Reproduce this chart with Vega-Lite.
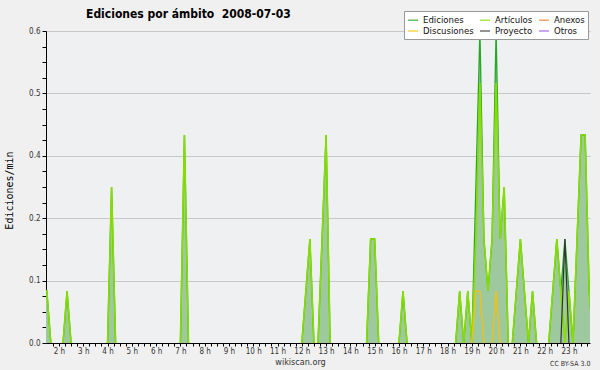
{
"$schema": "https://vega.github.io/schema/vega-lite/v6.json",
"width": 544, "height": 312,
"autosize": {"type": "none"},
"padding": {"left": 46, "top": 31, "right": 10, "bottom": 27},
"background": "#f0f0f0",
"title": {"text": "Ediciones por ámbito\u00a0 2008-07-03", "anchor": "start", "frame": "group", "dx": 40, "offset": -10, "font": "DejaVu Sans Condensed", "fontSize": 12, "fontWeight": "bold", "color": "#000000"},
"config": {
  "view": {"fill": "#eef0f2", "stroke": null},
  "legend": {"orient": "none", "legendX": 358, "legendY": -20, "direction": "horizontal", "columns": 3, "symbolType": "stroke", "symbolSize": 100, "symbolStrokeWidth": 1.5, "symbolOpacity": 0.7, "labelFont": "DejaVu Sans Condensed", "labelFontSize": 9.5, "labelColor": "#111111", "labelOffset": 4, "columnPadding": 3, "rowPadding": -1, "padding": 3, "fillColor": "#ffffff", "strokeColor": "#999999"}
},
"data": {"values": [
{"t":80,"s":"Ediciones","v":0.1,"g":1},{"t":90,"s":"Ediciones","v":0.1,"g":1},{"t":100,"s":"Ediciones","v":0,"g":1},
{"t":130,"s":"Ediciones","v":0,"g":2},{"t":140,"s":"Ediciones","v":0.1,"g":2},{"t":150,"s":"Ediciones","v":0,"g":2},
{"t":240,"s":"Ediciones","v":0,"g":3},{"t":250,"s":"Ediciones","v":0.3,"g":3},{"t":260,"s":"Ediciones","v":0,"g":3},
{"t":420,"s":"Ediciones","v":0,"g":4},{"t":430,"s":"Ediciones","v":0.4,"g":4},{"t":440,"s":"Ediciones","v":0,"g":4},
{"t":720,"s":"Ediciones","v":0,"g":5},{"t":730,"s":"Ediciones","v":0.1,"g":5},{"t":740,"s":"Ediciones","v":0.2,"g":5},{"t":750,"s":"Ediciones","v":0,"g":5},
{"t":760,"s":"Ediciones","v":0,"g":6},{"t":770,"s":"Ediciones","v":0.2,"g":6},{"t":780,"s":"Ediciones","v":0.4,"g":6},{"t":790,"s":"Ediciones","v":0,"g":6},
{"t":880,"s":"Ediciones","v":0,"g":7},{"t":890,"s":"Ediciones","v":0.2,"g":7},{"t":900,"s":"Ediciones","v":0.2,"g":7},{"t":910,"s":"Ediciones","v":0,"g":7},
{"t":960,"s":"Ediciones","v":0,"g":8},{"t":970,"s":"Ediciones","v":0.1,"g":8},{"t":980,"s":"Ediciones","v":0,"g":8},
{"t":1100,"s":"Ediciones","v":0,"g":9},{"t":1110,"s":"Ediciones","v":0.1,"g":9},{"t":1120,"s":"Ediciones","v":0,"g":9},{"t":1130,"s":"Ediciones","v":0.1,"g":9},{"t":1140,"s":"Ediciones","v":0,"g":9},{"t":1150,"s":"Ediciones","v":0.3,"g":9},{"t":1160,"s":"Ediciones","v":0.6,"g":9},{"t":1170,"s":"Ediciones","v":0.2,"g":9},{"t":1180,"s":"Ediciones","v":0.1,"g":9},{"t":1190,"s":"Ediciones","v":0.2,"g":9},{"t":1200,"s":"Ediciones","v":0.6,"g":9},{"t":1210,"s":"Ediciones","v":0.2,"g":9},{"t":1220,"s":"Ediciones","v":0.3,"g":9},{"t":1230,"s":"Ediciones","v":0,"g":9},
{"t":1240,"s":"Ediciones","v":0,"g":10},{"t":1250,"s":"Ediciones","v":0.1,"g":10},{"t":1260,"s":"Ediciones","v":0.2,"g":10},{"t":1270,"s":"Ediciones","v":0.1,"g":10},{"t":1280,"s":"Ediciones","v":0,"g":10},{"t":1290,"s":"Ediciones","v":0.1,"g":10},{"t":1300,"s":"Ediciones","v":0,"g":10},
{"t":1330,"s":"Ediciones","v":0,"g":11},{"t":1340,"s":"Ediciones","v":0.1,"g":11},{"t":1350,"s":"Ediciones","v":0.2,"g":11},{"t":1360,"s":"Ediciones","v":0.1,"g":11},{"t":1370,"s":"Ediciones","v":0.2,"g":11},{"t":1380,"s":"Ediciones","v":0.1,"g":11},{"t":1390,"s":"Ediciones","v":0,"g":11},{"t":1400,"s":"Ediciones","v":0.2,"g":11},{"t":1410,"s":"Ediciones","v":0.4,"g":11},{"t":1420,"s":"Ediciones","v":0.4,"g":11},{"t":1430,"s":"Ediciones","v":0.1,"g":11},{"t":1440,"s":"Ediciones","v":0,"g":11},
{"t":80,"s":"Artículos","v":0.1,"g":1},{"t":90,"s":"Artículos","v":0.1,"g":1},{"t":100,"s":"Artículos","v":0,"g":1},
{"t":130,"s":"Artículos","v":0,"g":2},{"t":140,"s":"Artículos","v":0.1,"g":2},{"t":150,"s":"Artículos","v":0,"g":2},
{"t":240,"s":"Artículos","v":0,"g":3},{"t":250,"s":"Artículos","v":0.3,"g":3},{"t":260,"s":"Artículos","v":0,"g":3},
{"t":420,"s":"Artículos","v":0,"g":4},{"t":430,"s":"Artículos","v":0.4,"g":4},{"t":440,"s":"Artículos","v":0,"g":4},
{"t":720,"s":"Artículos","v":0,"g":5},{"t":730,"s":"Artículos","v":0.1,"g":5},{"t":740,"s":"Artículos","v":0.2,"g":5},{"t":750,"s":"Artículos","v":0,"g":5},
{"t":760,"s":"Artículos","v":0,"g":6},{"t":770,"s":"Artículos","v":0.2,"g":6},{"t":780,"s":"Artículos","v":0.4,"g":6},{"t":790,"s":"Artículos","v":0,"g":6},
{"t":880,"s":"Artículos","v":0,"g":7},{"t":890,"s":"Artículos","v":0.2,"g":7},{"t":900,"s":"Artículos","v":0.2,"g":7},{"t":910,"s":"Artículos","v":0,"g":7},
{"t":960,"s":"Artículos","v":0,"g":8},{"t":970,"s":"Artículos","v":0.1,"g":8},{"t":980,"s":"Artículos","v":0,"g":8},
{"t":1100,"s":"Artículos","v":0,"g":9},{"t":1110,"s":"Artículos","v":0.1,"g":9},{"t":1120,"s":"Artículos","v":0,"g":9},{"t":1130,"s":"Artículos","v":0.1,"g":9},{"t":1140,"s":"Artículos","v":0,"g":9},{"t":1150,"s":"Artículos","v":0.2,"g":9},{"t":1160,"s":"Artículos","v":0.5,"g":9},{"t":1170,"s":"Artículos","v":0.2,"g":9},{"t":1180,"s":"Artículos","v":0.1,"g":9},{"t":1190,"s":"Artículos","v":0.2,"g":9},{"t":1200,"s":"Artículos","v":0.5,"g":9},{"t":1210,"s":"Artículos","v":0.2,"g":9},{"t":1220,"s":"Artículos","v":0.3,"g":9},{"t":1230,"s":"Artículos","v":0,"g":9},
{"t":1240,"s":"Artículos","v":0,"g":10},{"t":1250,"s":"Artículos","v":0.1,"g":10},{"t":1260,"s":"Artículos","v":0.2,"g":10},{"t":1270,"s":"Artículos","v":0.1,"g":10},{"t":1280,"s":"Artículos","v":0,"g":10},{"t":1290,"s":"Artículos","v":0.1,"g":10},{"t":1300,"s":"Artículos","v":0,"g":10},
{"t":1330,"s":"Artículos","v":0,"g":11},{"t":1340,"s":"Artículos","v":0.1,"g":11},{"t":1350,"s":"Artículos","v":0.2,"g":11},{"t":1360,"s":"Artículos","v":0.1,"g":11},{"t":1370,"s":"Artículos","v":0,"g":11},{"t":1380,"s":"Artículos","v":0.1,"g":11},{"t":1390,"s":"Artículos","v":0,"g":11},{"t":1400,"s":"Artículos","v":0.2,"g":11},{"t":1410,"s":"Artículos","v":0.4,"g":11},{"t":1420,"s":"Artículos","v":0.4,"g":11},{"t":1430,"s":"Artículos","v":0.1,"g":11},{"t":1440,"s":"Artículos","v":0,"g":11},
{"t":1140,"s":"Discusiones","v":0,"g":12},{"t":1150,"s":"Discusiones","v":0.1,"g":12},{"t":1160,"s":"Discusiones","v":0.1,"g":12},{"t":1170,"s":"Discusiones","v":0,"g":12},
{"t":1190,"s":"Discusiones","v":0,"g":13},{"t":1200,"s":"Discusiones","v":0.1,"g":13},{"t":1210,"s":"Discusiones","v":0,"g":13},
{"t":1360,"s":"Proyecto","v":0,"g":14},{"t":1370,"s":"Proyecto","v":0.2,"g":14},{"t":1380,"s":"Proyecto","v":0,"g":14}
]},
"encoding": {
  "x": {"field": "t", "type": "quantitative", "scale": {"domain": [88, 1432], "nice": false, "zero": false},
    "axis": {"values": [105,120,135,150,165,180,195,210,225,240,255,270,285,300,315,330,345,360,375,390,405,420,435,450,465,480,495,510,525,540,555,570,585,600,615,630,645,660,675,690,705,720,735,750,765,780,795,810,825,840,855,870,885,900,915,930,945,960,975,990,1005,1020,1035,1050,1065,1080,1095,1110,1125,1140,1155,1170,1185,1200,1215,1230,1245,1260,1275,1290,1305,1320,1335,1350,1365,1380,1395,1410,1425],
      "labelExpr": "datum.value % 60 == 0 ? (datum.value / 60) + ' h' : ''",
      "labelOverlap": false, "labelFlush": false, "labelBound": false,
      "labelFont": "DejaVu Sans Condensed", "labelFontSize": 8, "labelColor": "#333333", "labelPadding": 1,
      "tickColor": "#000000", "tickSize": 3, "domainColor": "#000000", "grid": false, "zindex": 1,
      "title": "wikiscan.org", "titleFont": "DejaVu Sans Condensed", "titleFontSize": 9, "titleFontWeight": "normal", "titleColor": "#333333",
      "titleX": 254, "titleY": 21, "titleAlign": "center", "titleBaseline": "alphabetic"}},
  "y": {"field": "v", "type": "quantitative", "scale": {"domain": [0, 0.6], "nice": false},
    "axis": {"values": [0,0.03,0.06,0.09,0.12,0.15,0.18,0.21,0.24,0.27,0.3,0.33,0.36,0.39,0.42,0.45,0.48,0.51,0.54,0.57,0.6],
      "labelExpr": "indexof([0,0.12,0.24,0.36,0.48,0.6], datum.value) >= 0 ? format(datum.value, '.1f') : ''",
      "labelOverlap": false, "labelFlush": false, "labelBound": false,
      "labelFont": "DejaVu Sans Condensed", "labelFontSize": 8, "labelColor": "#333333", "labelPadding": 2,
      "tickColor": "#000000", "tickSize": 4, "domainColor": "#000000",
      "grid": true, "gridColor": "#c8c8c8", "gridOpacity": {"condition": {"test": "indexof([0.12,0.24,0.36,0.48,0.6], datum.value) >= 0", "value": 1}, "value": 0},
      "zindex": 0,
      "title": "Ediciones/min", "titleFont": "DejaVu Sans Mono", "titleFontSize": 10, "titleFontWeight": "normal", "titleColor": "#000000",
      "titleX": -37, "titleY": 159, "titleAngle": 270, "titleAlign": "center", "titleBaseline": "middle"}},
  "color": {"field": "s", "type": "nominal",
    "scale": {"domain": ["Ediciones", "Artículos", "Anexos", "Discusiones", "Proyecto", "Otros"], "range": ["#25a825", "#88dd00", "#ff7733", "#ffbf00", "#333333", "#9955ee"]},
    "legend": {"title": null}}
},
"layer": [
  {"layer": [
    {"transform": [{"filter": "datum.s == 'Ediciones'"}], "mark": {"type": "area", "clip": true}, "encoding": {"color": {"value": "#9ec99e"}}},
    {"transform": [{"filter": "datum.s == 'Ediciones'"}], "mark": {"type": "line", "clip": true, "strokeWidth": 1.3}, "encoding": {"detail": {"field": "g"}}},
    {"transform": [{"filter": "datum.s == 'Artículos'"}], "mark": {"type": "line", "clip": true, "strokeWidth": 1.6}, "encoding": {"detail": {"field": "g"}}},
    {"transform": [{"filter": "datum.s == 'Discusiones'"}], "mark": {"type": "line", "clip": true, "strokeWidth": 1.2}, "encoding": {"detail": {"field": "g"}}}
  ]},
  {"transform": [{"filter": "datum.s == 'Proyecto'"}], "mark": {"type": "line", "clip": true, "strokeWidth": 1.2},
   "encoding": {"detail": {"field": "g"},
     "y": {"field": "v", "type": "quantitative", "scale": {"domain": [0, 0.6], "nice": false},
       "axis": {"orient": "right", "domain": false, "ticks": false, "labels": false, "grid": false,
         "title": "CC BY-SA 3.0", "titleFont": "DejaVu Sans Condensed", "titleFontSize": 7, "titleFontWeight": "normal", "titleColor": "#333333",
         "titleAngle": 0, "titleX": 0, "titleY": 334, "titleAlign": "right", "titleBaseline": "alphabetic"}}}}
],
"resolve": {"axis": {"y": "independent"}}
}
